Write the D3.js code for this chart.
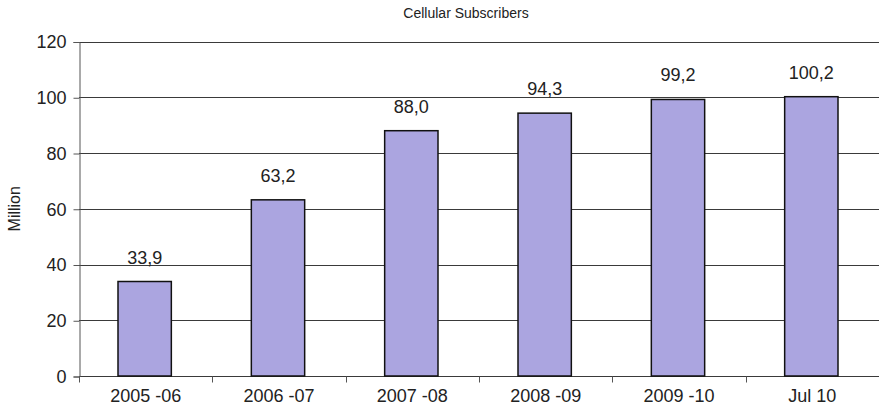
<!DOCTYPE html>
<html>
<head>
<meta charset="utf-8">
<script src="https://cdn.jsdelivr.net/npm/d3@7"></script>
<style>
  body { margin: 0; background: #fff; }
  text { font-family: "Liberation Sans", Arial, sans-serif; fill: #222; }
</style>
</head>
<body>
<svg id="chart"></svg>
<script>
const WIDTH = 879
const HEIGHT = 417

const categories = ['2005 -06', '2006 -07', '2007 -08', '2008 -09', '2009 -10', 'Jul 10']
const subscribers = [33.9, 63.2, 88.0, 94.3, 99.2, 100.2]
const yTicks = [0, 20, 40, 60, 80, 100, 120]

const margin = { top: 41.5, right: 0, bottom: 41, left: 79 }

const svg = d3.select('#chart')
    .attr('width', WIDTH)
    .attr('height', HEIGHT)

const x = d3.scaleBand()
    .domain(categories)
    .range([margin.left, WIDTH - margin.right])

const y = d3.scaleLinear()
    .domain([0, 120])
    .range([HEIGHT - margin.bottom, margin.top])

// gridlines
svg.append('g')
    .selectAll('line')
    .data(yTicks)
    .join('line')
    .attr('x1', margin.left)
    .attr('x2', WIDTH - margin.right)
    .attr('y1', d => Math.round(y(d)) + 0.5)
    .attr('y2', d => Math.round(y(d)) + 0.5)
    .attr('stroke', '#3a3a3a')
    .attr('stroke-width', 1)

// y axis
const yAxis = svg.append('g')
    .attr('transform', `translate(${margin.left + 0.5},0.5)`)
    .call(d3.axisLeft(y).tickValues(yTicks).tickSize(6).tickPadding(7))
yAxis.select('.domain').attr('stroke', '#555')
yAxis.selectAll('.tick line').attr('stroke', '#555')
yAxis.selectAll('.tick text')
    .style('font-size', '18px')
    .attr('fill', '#222')
    .attr('font-family', '"Liberation Sans", Arial, sans-serif')

// x axis
const xAxis = svg.append('g')
    .attr('transform', `translate(0,${Math.round(y(0)) + 0.5})`)
    .call(d3.axisBottom(x).tickSize(0).tickPadding(13))
xAxis.select('.domain').remove()
xAxis.selectAll('.tick text')
    .style('font-size', '18px')
    .attr('fill', '#222')
    .attr('font-family', '"Liberation Sans", Arial, sans-serif')

// ticks between categories
svg.append('g')
    .selectAll('line')
    .data(categories)
    .join('line')
    .attr('x1', d => Math.round(x(d)) + 0.5)
    .attr('x2', d => Math.round(x(d)) + 0.5)
    .attr('y1', Math.round(y(0)) + 0.5)
    .attr('y2', Math.round(y(0)) + 6.5)
    .attr('stroke', '#555')

// bars
const barW = x.bandwidth() * 0.4
svg.append('g')
    .selectAll('rect')
    .data(subscribers)
    .join('rect')
    .attr('x', (d, i) => x(categories[i]) + x.bandwidth() / 2 - barW / 2 - 1)
    .attr('y', d => y(d))
    .attr('width', barW)
    .attr('height', d => y(0) - y(d))
    .attr('fill', '#aba5e0')
    .attr('stroke', '#111')
    .attr('stroke-width', 1.5)

// value labels
svg.append('g')
    .selectAll('text')
    .data(subscribers)
    .join('text')
    .attr('x', (d, i) => x(categories[i]) + x.bandwidth() / 2 - 1)
    .attr('y', d => y(d) - 18)
    .attr('text-anchor', 'middle')
    .style('font-size', '18px')
    .text(d => d.toFixed(1).replace('.', ','))

// title
svg.append('text')
    .attr('x', 466)
    .attr('y', 18)
    .attr('text-anchor', 'middle')
    .style('font-size', '14px')
    .text('Cellular Subscribers')

// y label
svg.append('text')
    .attr('transform', `translate(20,${(margin.top + HEIGHT - margin.bottom) / 2}) rotate(-90)`)
    .attr('text-anchor', 'middle')
    .style('font-size', '16px')
    .text('Million')
</script>
</body>
</html>
